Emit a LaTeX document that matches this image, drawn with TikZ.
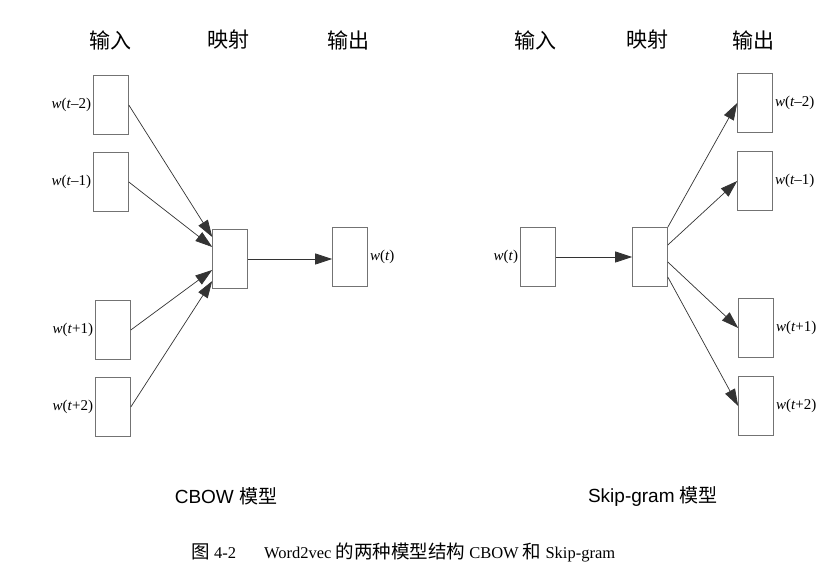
\documentclass[tikz,border=0pt]{standalone}
\usepackage{fontspec}
\setmainfont{Liberation Serif}
\newfontfamily\cjk{Noto Sans CJK SC}
\newfontfamily\sans{Liberation Sans}
\newcommand\capcjk[1]{{\cjk\fontsize{18.5}{20}\selectfont #1}}
\usetikzlibrary{arrows.meta, positioning}

\begin{document}
\begin{tikzpicture}[x=1pt, y=-1pt,
    vec/.style={draw=black!55, line width=0.6pt, minimum width=35pt, minimum height=59pt, inner sep=0pt},
    wlbl/.style={font=\fontsize{15}{16}\selectfont, inner sep=1pt},
    head/.style={font=\cjk\fontsize{21}{24}\selectfont},
    flow/.style={draw=black!80, line width=0.7pt, -{Triangle[length=17pt, width=11pt]}}]
    \useasboundingbox (0,0) rectangle (823,572);

    % CBOW
    \node[head] (cin) at (110,40) {输入};
    \node[head] (cproj) at (228,40) {映射};
    \node[head] (cout) at (348,40) {输出};
    \node[vec] (in1) at (111,105) {};
    \node[vec] (in2) at (111,182) {};
    \node[vec] (in3) at (113,330) {};
    \node[vec] (in4) at (113,407) {};
    \node[vec] (proj) at (230,259) {};
    \node[vec] (out) at (350,257) {};
    \node[wlbl, left=1pt of in1] {\textit{w}(\textit{t}–2)};
    \node[wlbl, left=1pt of in2] {\textit{w}(\textit{t}–1)};
    \node[wlbl, left=1pt of in3] {\textit{w}(\textit{t}+1)};
    \node[wlbl, left=1pt of in4] {\textit{w}(\textit{t}+2)};
    \node[wlbl, right=1pt of out] {\textit{w}(\textit{t})};
    \draw[flow] (in1.east) -- ([yshift=22pt]proj.west);
    \draw[flow] (in2.east) -- ([yshift=12pt]proj.west);
    \draw[flow] (in3.east) -- ([yshift=-11pt]proj.west);
    \draw[flow] (in4.east) -- ([yshift=-22pt]proj.west);
    \draw[flow] (proj.east) -- (out.west |- proj.east);

    % Skip-gram
    \node[head] (sin) at (535,40) {输入};
    \node[head] (sproj) at (647,40) {映射};
    \node[head] (sout) at (753,40) {输出};
    \node[vec] (sw) at (538,257) {};
    \node[vec] (hid) at (650,257) {};
    \node[vec] (so1) at (755,103) {};
    \node[vec] (so2) at (755,181) {};
    \node[vec] (so3) at (756,328) {};
    \node[vec] (so4) at (756,406) {};
    \node[wlbl, left=1pt of sw] {\textit{w}(\textit{t})};
    \node[wlbl, right=1pt of so1] {\textit{w}(\textit{t}–2)};
    \node[wlbl, right=1pt of so2] {\textit{w}(\textit{t}–1)};
    \node[wlbl, right=1pt of so3] {\textit{w}(\textit{t}+1)};
    \node[wlbl, right=1pt of so4] {\textit{w}(\textit{t}+2)};
    \draw[flow] (sw.east) -- (hid.west);
    \draw[flow] (hid.north east) -- (so1.west);
    \draw[flow] ([yshift=12pt]hid.east) -- (so2.west);
    \draw[flow] ([yshift=-5pt]hid.east) -- (so3.west);
    \draw[flow] ([yshift=-20pt]hid.east) -- (so4.west);

    % captions
    \node[font=\fontsize{19}{22}\selectfont] (ccap) at (226,496) {\sans CBOW \cjk 模型};
    \node[font=\fontsize{19}{22}\selectfont] (scap) at (653,496) {\sans Skip-gram \cjk 模型};
    \node[font=\fontsize{16.5}{19}\selectfont, anchor=west] (fig) at (188,552)
        {\capcjk{图} 4-2\hspace{28pt}Word2vec \capcjk{的两种模型结构} CBOW \capcjk{和} Skip-gram};
\end{tikzpicture}
\end{document}
